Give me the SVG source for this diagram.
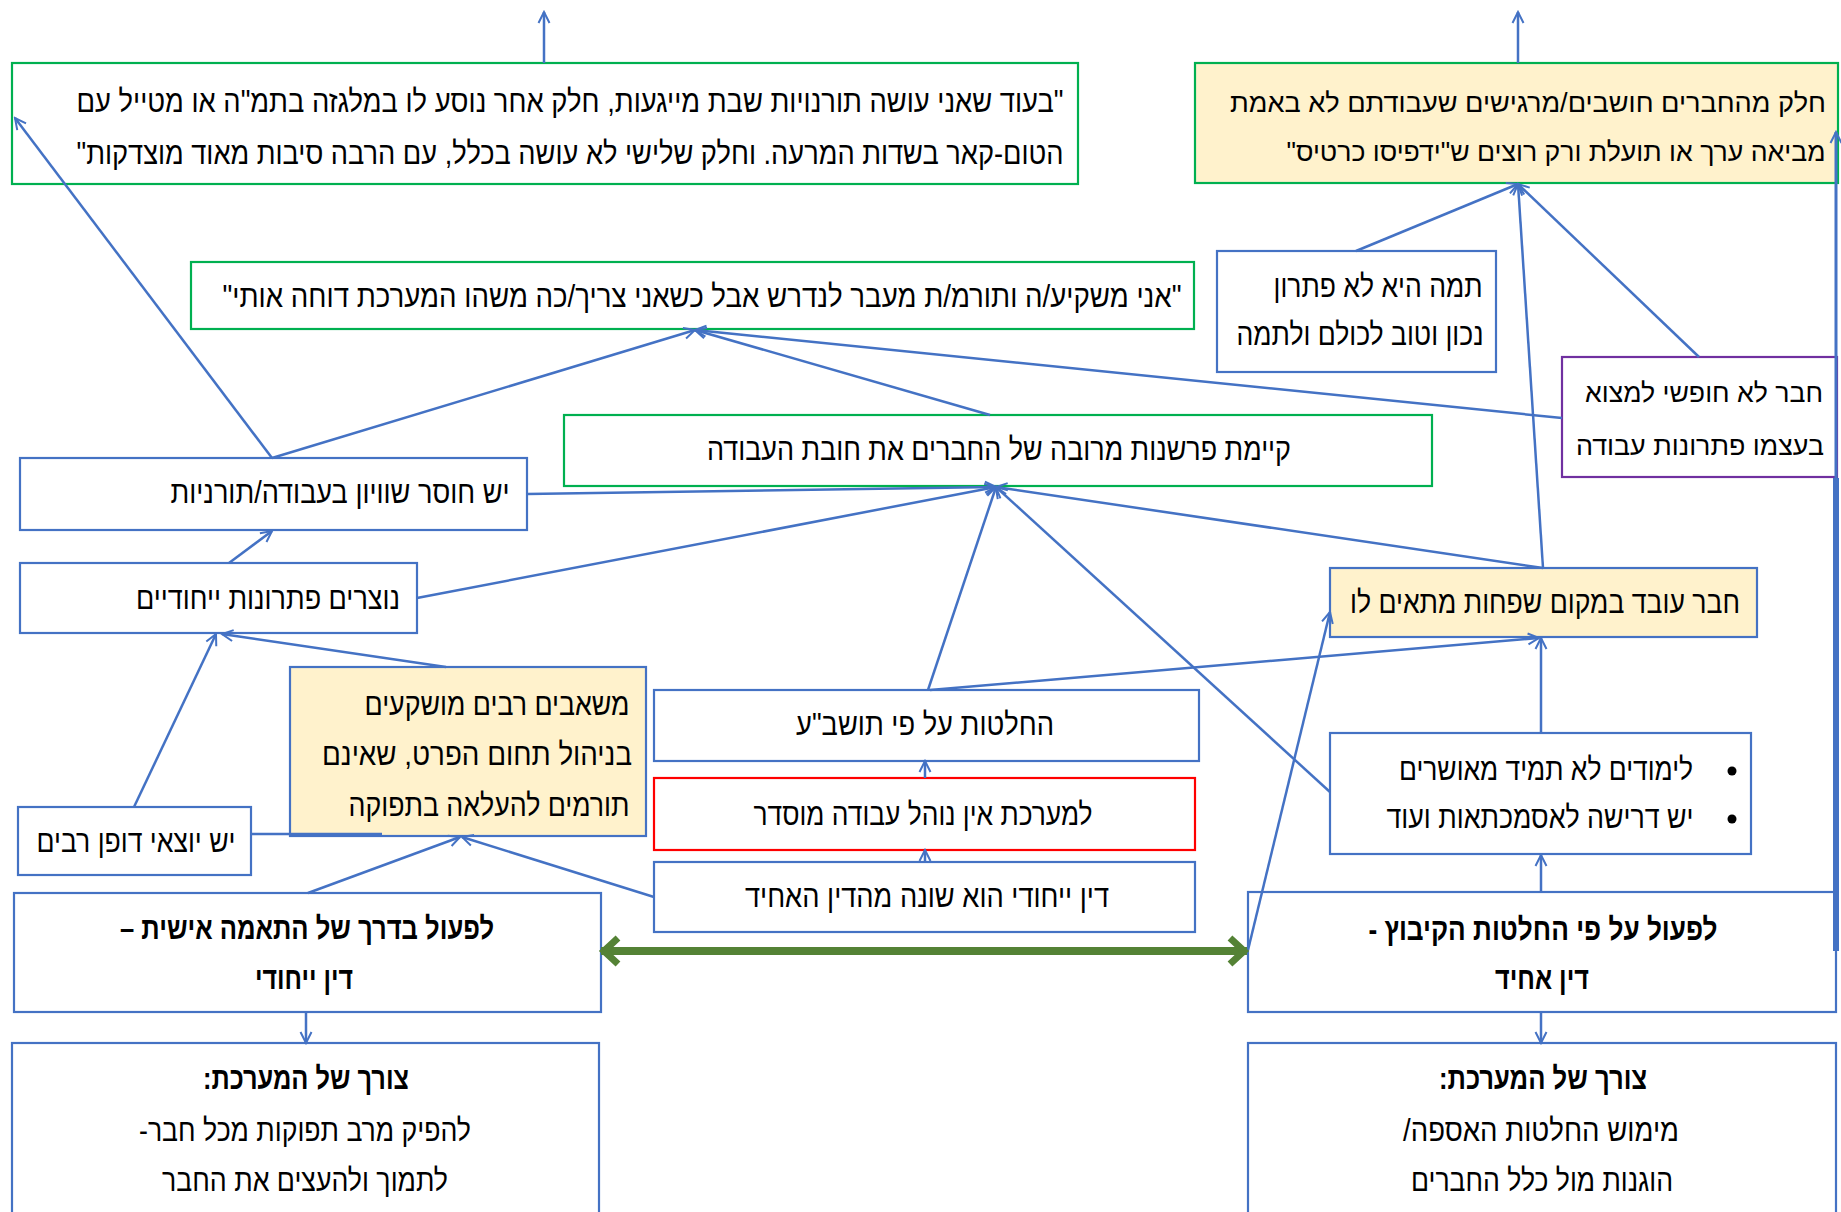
<svg xmlns="http://www.w3.org/2000/svg" width="1841" height="1212" viewBox="0 0 1841 1212">
<style>
.bx{fill:#fff;stroke:#4472C4;stroke-width:2.2}
.gr{stroke:#00B050}
.pu{stroke:#7030A0}
.rd{stroke:#FF0000}
.ye{fill:#FFF2CC}
text{font-family:"Liberation Sans",Arial,sans-serif;font-size:31px;fill:#000;direction:rtl;text-anchor:middle}
.b{font-weight:bold}
.s{font-size:27px}
.c{stroke:#4472C4;stroke-width:2.5;fill:none;marker-end:url(#ah)}
.cn{stroke:#4472C4;stroke-width:2.5;fill:none}
</style>
<defs>
<marker id="ah" viewBox="0 0 14 14" refX="12" refY="7" markerWidth="14" markerHeight="14" markerUnits="userSpaceOnUse" orient="auto">
<path d="M1,1.5 L12,7 L1,12.5" fill="none" stroke="#4472C4" stroke-width="2"/>
</marker>
<marker id="gh" viewBox="0 0 26 34" refX="23" refY="17" markerWidth="26" markerHeight="34" markerUnits="userSpaceOnUse" orient="auto-start-reverse">
<path d="M6,4 L20,17 L6,30" fill="none" stroke="#548235" stroke-width="7"/>
</marker>
</defs>
<rect width="1841" height="1212" fill="#fff"/>

<g id="nA"><rect class="bx gr" x="12" y="63" width="1066" height="121"/>
<text x="570" y="112" textLength="987" lengthAdjust="spacingAndGlyphs">"בעוד שאני עושה תורנויות שבת מייגעות, חלק אחר נוסע לו במלגזה בתמ"ה או מטייל עם</text>
<text x="570" y="164" textLength="987" lengthAdjust="spacingAndGlyphs">הטום-קאר בשדות המרעה. וחלק שלישי לא עושה בכלל, עם הרבה סיבות מאוד מוצדקות"</text></g>

<g id="nB"><rect class="bx gr ye" x="1195" y="63" width="643" height="120"/>
<text class="s" x="1528" y="112" textLength="596" lengthAdjust="spacingAndGlyphs">חלק מהחברים חושבים/מרגישים שעבודתם לא באמת</text>
<text class="s" x="1556" y="161" textLength="539" lengthAdjust="spacingAndGlyphs">מביאה ערך או תועלת ורק רוצים ש"ידפיסו כרטיס"</text></g>

<g id="nC"><rect class="bx gr" x="191" y="262" width="1003" height="67"/>
<text x="702" y="307" textLength="959" lengthAdjust="spacingAndGlyphs">"אני משקיע/ה ותורמ/ת מעבר לנדרש אבל כשאני צריך/כה משהו המערכת דוחה אותי"</text></g>

<g id="nD"><rect class="bx" x="1217" y="251" width="279" height="121"/>
<text x="1378" y="297" textLength="209" lengthAdjust="spacingAndGlyphs">תמה היא לא פתרון</text>
<text x="1360" y="345" textLength="247" lengthAdjust="spacingAndGlyphs">נכון וטוב לכולם ולתמה</text></g>

<g id="nE"><rect class="bx pu" x="1562" y="357" width="275" height="120"/>
<text class="s" x="1704" y="402" textLength="238" lengthAdjust="spacingAndGlyphs">חבר לא חופשי למצוא</text>
<text class="s" x="1700" y="455" textLength="248" lengthAdjust="spacingAndGlyphs">בעצמו פתרונות עבודה</text></g>

<g id="nF"><rect class="bx gr" x="564" y="415" width="868" height="71"/>
<text x="999" y="460" textLength="584" lengthAdjust="spacingAndGlyphs">קיימת פרשנות מרובה של החברים את חובת העבודה</text></g>

<g id="nG"><rect class="bx" x="20" y="458" width="507" height="72"/>
<text x="340" y="503" textLength="339" lengthAdjust="spacingAndGlyphs">יש חוסר שוויון בעבודה/תורניות</text></g>

<g id="nH"><rect class="bx" x="20" y="563" width="397" height="70"/>
<text x="268" y="609" textLength="264" lengthAdjust="spacingAndGlyphs">נוצרים פתרונות ייחודיים</text></g>

<g id="nI"><rect class="bx ye" x="1330" y="568" width="427" height="69"/>
<text x="1545" y="613" textLength="390" lengthAdjust="spacingAndGlyphs">חבר עובד במקום שפחות מתאים לו</text></g>

<g id="nJ"><rect class="bx ye" x="290" y="667" width="356" height="169"/>
<text x="497" y="715" textLength="265" lengthAdjust="spacingAndGlyphs">משאבים רבים מושקעים</text>
<text x="477" y="765" textLength="310" lengthAdjust="spacingAndGlyphs">בניהול  תחום הפרט, שאינם</text>
<text x="489" y="816" textLength="281" lengthAdjust="spacingAndGlyphs">תורמים להעלאה בתפוקה</text></g>

<g id="nK"><rect class="bx" x="654" y="690" width="545" height="71"/>
<text x="925" y="735" textLength="258" lengthAdjust="spacingAndGlyphs">החלטות על פי תושב"ע</text></g>

<g id="nL"><rect class="bx rd" x="654" y="778" width="541" height="72"/>
<text x="923" y="825" textLength="339" lengthAdjust="spacingAndGlyphs">למערכת אין נוהל עבודה מוסדר</text></g>

<g id="nM"><rect class="bx" x="654" y="862" width="541" height="70"/>
<text x="927" y="907" textLength="364" lengthAdjust="spacingAndGlyphs">דין ייחודי  הוא שונה מהדין האחיד</text></g>

<g id="nN"><rect class="bx" x="1330" y="733" width="421" height="121"/>
<circle cx="1732" cy="771" r="4.5" fill="#000"/>
<circle cx="1732" cy="819" r="4.5" fill="#000"/>
<text x="1546" y="780" textLength="294" lengthAdjust="spacingAndGlyphs">לימודים לא תמיד מאושרים</text>
<text x="1540" y="828" textLength="307" lengthAdjust="spacingAndGlyphs">יש דרישה לאסמכתאות ועוד</text></g>

<g id="nO"><rect class="bx" x="18" y="807" width="233" height="68"/>
<text x="136" y="852" textLength="199" lengthAdjust="spacingAndGlyphs">יש יוצאי דופן רבים</text></g>

<g id="nP"><rect class="bx" x="14" y="893" width="587" height="119"/>
<text class="b" x="307" y="939" textLength="374" lengthAdjust="spacingAndGlyphs">לפעול בדרך של התאמה אישית –</text>
<text class="b" x="304" y="989" textLength="98" lengthAdjust="spacingAndGlyphs">דין ייחודי</text></g>

<g id="nQ"><rect class="bx" x="1248" y="892" width="588" height="120"/>
<text class="b" x="1543" y="940" textLength="349" lengthAdjust="spacingAndGlyphs">לפעול על פי החלטות הקיבוץ  -</text>
<text class="b" x="1542" y="989" textLength="94" lengthAdjust="spacingAndGlyphs">דין אחיד</text></g>

<g id="nR"><rect class="bx" x="12" y="1043" width="587" height="180"/>
<text class="b" x="306" y="1089" textLength="206" lengthAdjust="spacingAndGlyphs">צורך של המערכת:</text>
<text x="305" y="1141" textLength="332" lengthAdjust="spacingAndGlyphs">להפיק מרב תפוקות מכל חבר-</text>
<text x="305" y="1191" textLength="286" lengthAdjust="spacingAndGlyphs">לתמוך ולהעצים את החבר</text></g>

<g id="nS"><rect class="bx" x="1248" y="1043" width="588" height="180"/>
<text class="b" x="1543" y="1089" textLength="208" lengthAdjust="spacingAndGlyphs">צורך של המערכת:</text>
<text x="1541" y="1141" textLength="276" lengthAdjust="spacingAndGlyphs">מימוש החלטות האספה/</text>
<text x="1542" y="1191" textLength="262" lengthAdjust="spacingAndGlyphs">הוגנות מול כלל החברים</text></g>

<g id="connectors">
<line class="c" x1="544" y1="63" x2="544" y2="12"/>
<line class="c" x1="1518" y1="63" x2="1518" y2="12"/>
<line class="c" x1="272" y1="458" x2="15" y2="118"/>
<line class="c" x1="272" y1="458" x2="695" y2="330"/>
<line class="c" x1="990" y1="415" x2="695" y2="330"/>
<line class="c" x1="1562" y1="418" x2="695" y2="330"/>
<line class="c" x1="1356" y1="251" x2="1518" y2="184"/>
<line class="c" x1="1699" y1="357" x2="1518" y2="184"/>
<line class="c" x1="1543" y1="568" x2="1518" y2="184"/>
<line class="c" x1="527" y1="494" x2="996" y2="487"/>
<line class="c" x1="417" y1="598" x2="996" y2="487"/>
<line class="c" x1="928" y1="690" x2="996" y2="487"/>
<line class="c" x1="1330" y1="792" x2="996" y2="487"/>
<line class="c" x1="1543" y1="568" x2="996" y2="487"/>
<line class="c" x1="930" y1="690" x2="1539" y2="638"/>
<line class="c" x1="1541" y1="733" x2="1541" y2="638"/>
<line class="c" x1="1248" y1="950" x2="1330" y2="612"/>
<line class="c" x1="1541" y1="892" x2="1541" y2="855"/>
<line class="c" x1="1541" y1="1012" x2="1541" y2="1043"/>
<line class="c" x1="306" y1="1012" x2="306" y2="1043"/>
<line class="c" x1="308" y1="893" x2="460" y2="837"/>
<line class="c" x1="654" y1="897" x2="462" y2="837"/>
<line class="c" x1="134" y1="807" x2="216" y2="634"/>
<line class="c" x1="446" y1="667" x2="222" y2="634"/>
<line class="cn" x1="251" y1="834" x2="382" y2="834"/>
<line class="c" x1="229" y1="563" x2="272" y2="531"/>
<line class="c" x1="925" y1="778" x2="925" y2="761"/>
<line class="c" x1="925" y1="862" x2="925" y2="850"/>
<line class="cn" x1="1836" y1="951" x2="1836" y2="478" style="stroke-width:6"/>
<line class="c" x1="1836" y1="480" x2="1836" y2="132" style="stroke-width:3"/>
<line x1="601" y1="951" x2="1247" y2="951" stroke="#548235" stroke-width="8" marker-start="url(#gh)" marker-end="url(#gh)"/>
</g>
</svg>
